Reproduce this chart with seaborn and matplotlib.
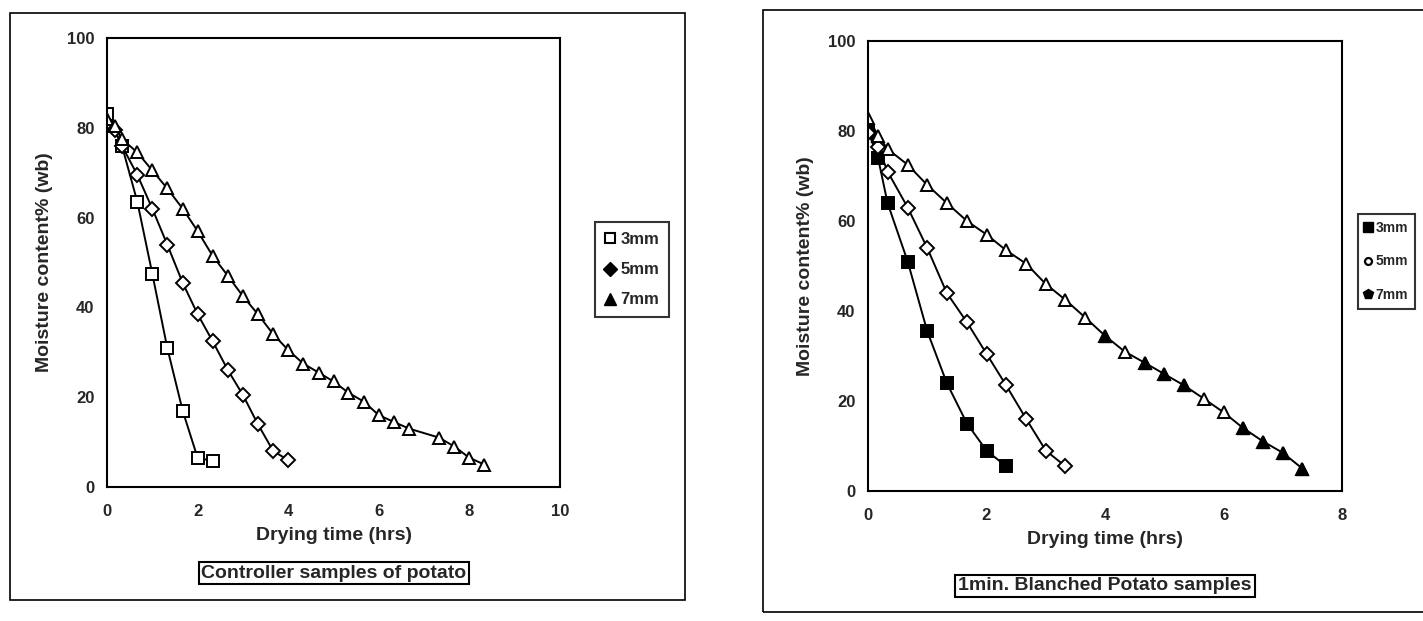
import numpy as np
import matplotlib
matplotlib.use("Agg")
import matplotlib.pyplot as plt
import seaborn as sns
from matplotlib.lines import Line2D
from matplotlib.patches import Rectangle

# data (time in hrs, moisture % wb)
ctrl_t3 = [0, 0.33, 0.67, 1.0, 1.33, 1.67, 2.0, 2.33]
ctrl_m3 = [83, 76, 63.5, 47.5, 31, 17, 6.5, 5.8]
ctrl_t5 = [0, 0.17, 0.33, 0.67, 1.0, 1.33, 1.67, 2.0, 2.33, 2.67, 3.0, 3.33, 3.67, 4.0]
ctrl_m5 = [81, 79.5, 76, 69.5, 62, 54, 45.5, 38.5, 32.5, 26, 20.5, 14, 8, 6]
ctrl_t7 = [0, 0.17, 0.33, 0.67, 1.0, 1.33, 1.67, 2.0, 2.33, 2.67, 3.0, 3.33, 3.67,
           4.0, 4.33, 4.67, 5.0, 5.33, 5.67, 6.0, 6.33, 6.67, 7.33, 7.67, 8.0, 8.33]
ctrl_m7 = [82, 80.5, 77.5, 74.5, 70.5, 66.5, 62, 57, 51.5, 47, 42.5, 38.5, 34,
           30.5, 27.5, 25.5, 23.5, 21, 19, 16, 14.5, 13, 11, 9, 6.5, 5]

blch_t3 = [0, 0.17, 0.33, 0.67, 1.0, 1.33, 1.67, 2.0, 2.33]
blch_m3 = [80, 74, 64, 51, 35.5, 24, 15, 9, 5.5]
blch_t5 = [0, 0.17, 0.33, 0.67, 1.0, 1.33, 1.67, 2.0, 2.33, 2.67, 3.0, 3.33]
blch_m5 = [79.5, 76.5, 71, 63, 54, 44, 37.5, 30.5, 23.5, 16, 9, 5.5]
blch_t7 = [0, 0.17, 0.33, 0.67, 1.0, 1.33, 1.67, 2.0, 2.33, 2.67, 3.0, 3.33,
           3.67, 4.0, 4.33, 4.67, 5.0, 5.33, 5.67, 6.0, 6.33, 6.67, 7.0, 7.33]
blch_m7 = [83, 79, 76, 72.5, 68, 64, 60, 57, 53.5, 50.5, 46, 42.5,
           38.5, 34.5, 31, 28.5, 26, 23.5, 20.5, 17.5, 14, 11, 8.5, 5]
# which 7mm triangles look solid in the blanched plot
blch_fill7 = [0, 0, 0, 0, 0, 0, 0, 0, 0, 0, 0, 0,
              0, 1, 0, 1, 1, 1, 0, 0, 1, 1, 1, 1]

labels = ["3mm", "5mm", "7mm"]

sns.set_style("white")
plt.rcParams['font.family'] = ['Liberation Sans', 'DejaVu Sans']
plt.rcParams['font.weight'] = 'bold'

fig = plt.figure(figsize=(14.23, 6.21), dpi=100)
W, H = 1423, 621


def add_axes_px(x0, y0, x1, y1):
    return fig.add_axes([x0 / W, 1 - y1 / H, (x1 - x0) / W, (y1 - y0) / H])


def style_axes(ax, xmax, xticks):
    ax.set_xlim(0, xmax)
    ax.set_ylim(0, 100)
    ax.set_xticks(xticks)
    ax.set_yticks([0, 20, 40, 60, 80, 100])
    for s in ax.spines.values():
        s.set_color("black")
        s.set_linewidth(1.5)
    ax.tick_params(axis="x", direction="in", length=5, width=1.2, pad=12, labelsize=12)
    ax.tick_params(axis="y", direction="out", length=5, width=1.2, pad=4, labelsize=12)
    ax.set_xlabel("Drying time (hrs)", fontsize=14, fontweight="bold", labelpad=6)
    ax.set_ylabel("Moisture content% (wb)", fontsize=14, fontweight="bold", labelpad=10)
    for lab in ax.get_xticklabels() + ax.get_yticklabels():
        lab.set_fontweight("bold")


line_kw = dict(color="black", linewidth=1.4, markersize=8, markeredgewidth=1.4,
               markeredgecolor="black")

# left panel: control samples
ax1 = add_axes_px(107, 38, 560, 487)
sns.lineplot(x=ctrl_t3, y=ctrl_m3, ax=ax1, marker="s", markerfacecolor="white", **line_kw)
sns.lineplot(x=ctrl_t5, y=ctrl_m5, ax=ax1, marker="D", markerfacecolor="white",
             **{**line_kw, "markersize": 7})
sns.lineplot(x=ctrl_t7, y=ctrl_m7, ax=ax1, marker="^", markerfacecolor="white", **line_kw)
style_axes(ax1, 10, [0, 2, 4, 6, 8, 10])

h1 = [Line2D([], [], linestyle="none", marker="s", markersize=7, markerfacecolor="white",
             markeredgecolor="black", markeredgewidth=1.5),
      Line2D([], [], linestyle="none", marker="D", markersize=7, color="black"),
      Line2D([], [], linestyle="none", marker="^", markersize=8, color="black")]
leg1 = fig.legend(h1, labels, loc="upper left", bbox_to_anchor=(587 / W, 1 - 214 / H),
                  frameon=True, fancybox=False, edgecolor="black", handlelength=0.6,
                  handletextpad=0.3, labelspacing=0.9, borderpad=0.6,
                  prop={"weight": "bold", "size": 12})
leg1.get_frame().set_linewidth(1.5)

# right panel: 1 min blanched samples
ax2 = add_axes_px(868, 41, 1342, 491)
sns.lineplot(x=blch_t3, y=blch_m3, ax=ax2, marker="s", markerfacecolor="black", **line_kw)
sns.lineplot(x=blch_t5, y=blch_m5, ax=ax2, marker="D", markerfacecolor="white",
             **{**line_kw, "markersize": 7})
sns.lineplot(x=blch_t7, y=blch_m7, ax=ax2, marker="^", markerfacecolor="white", **line_kw)
mask = np.array(blch_fill7, dtype=bool)
sns.scatterplot(x=np.array(blch_t7)[mask], y=np.array(blch_m7)[mask], ax=ax2,
                marker="^", color="black", s=80, edgecolor="black", zorder=5)
style_axes(ax2, 8, [0, 2, 4, 6, 8])

# legend sits against the right edge, squeezed so the text stays inside
h2 = [Line2D([], [], linestyle="none", marker="s", markersize=7, color="black"),
      Line2D([], [], linestyle="none", marker="o", markersize=5, markerfacecolor="white",
             markeredgecolor="black", markeredgewidth=1.6),
      Line2D([], [], linestyle="none", marker="p", markersize=7, color="black")]
leg2 = fig.legend(h2, labels, loc="upper left", bbox_to_anchor=(1358 / W, 1 - 214 / H),
                  frameon=True, fancybox=False, edgecolor="black", handlelength=0.5,
                  handletextpad=0.25, labelspacing=1.4, borderpad=0.5, borderaxespad=0,
                  prop={"weight": "bold", "size": 10})
leg2.get_frame().set_linewidth(1.5)

# panel captions in boxes
box = dict(boxstyle="square,pad=0.15", facecolor="white", edgecolor="black", linewidth=1.5)
fig.text(334 / W, 1 - 573 / H, "Controller samples of potato", ha="center", va="center",
         fontsize=14, fontweight="bold", bbox=box)
fig.text(1105 / W, 1 - 586 / H, "1min. Blanched Potato samples", ha="center", va="center",
         fontsize=14, fontweight="bold", bbox=box)

# outer frames around each panel
fig.patches.append(Rectangle((10 / W, 1 - 600 / H), 675 / W, 587 / H, transform=fig.transFigure,
                             fill=False, edgecolor="black", linewidth=1.2))
fig.patches.append(Rectangle((763 / W, 1 - 612 / H), 700 / W, 602 / H, transform=fig.transFigure,
                             fill=False, edgecolor="black", linewidth=1.2))

fig.savefig("out.png", dpi=100)
